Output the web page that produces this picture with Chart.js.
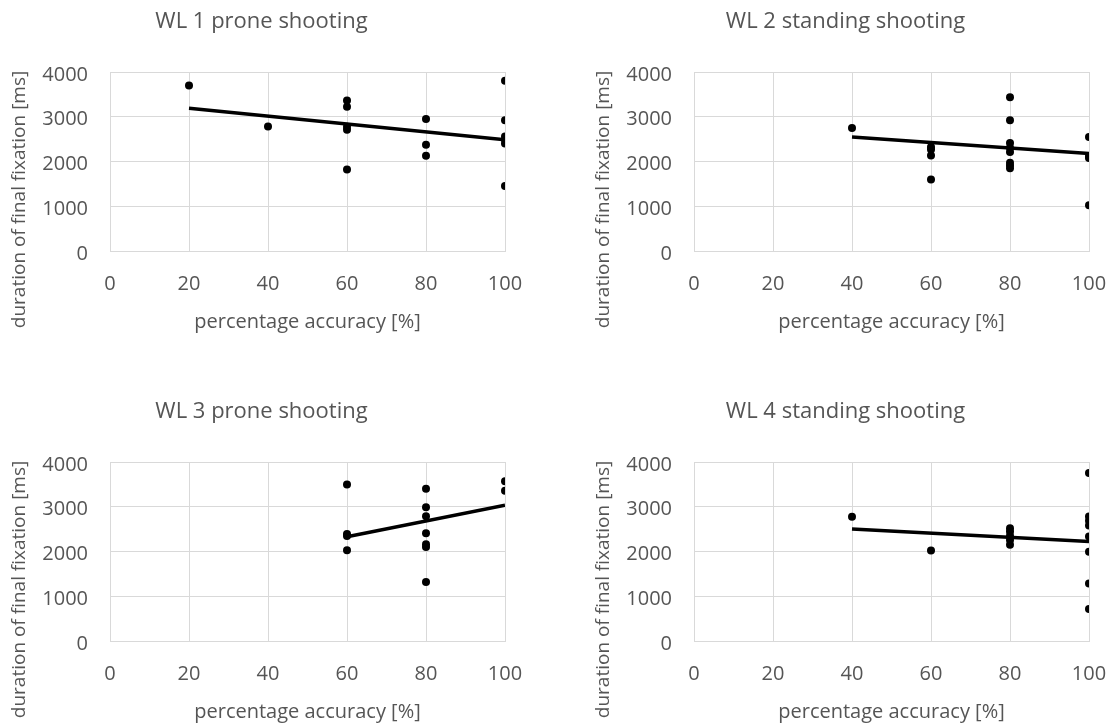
<!DOCTYPE html>
<html>
<head>
<meta charset="utf-8">
<script src="https://cdn.jsdelivr.net/npm/chart.js@4.4.0/dist/chart.umd.min.js"></script>
<style>
  body { margin: 0; background: #fff; width: 1115px; height: 724px; overflow: hidden; position: relative; }
  canvas { position: absolute; }
</style>
</head>
<body>
<canvas id="wl1" width="557" height="334" style="left:0;top:0"></canvas>
<canvas id="wl2" width="557" height="334" style="left:584px;top:0"></canvas>
<canvas id="wl3" width="557" height="334" style="left:0;top:390px"></canvas>
<canvas id="wl4" width="557" height="334" style="left:584px;top:390px"></canvas>
<script>
// x ticks and y ticks shared by all four panels
var xTicks = [0, 20, 40, 60, 80, 100];
var yTicks = [0, 1000, 2000, 3000, 4000];

// WL 1 prone shooting
var wl1Acc = [20, 40, 60, 60, 60, 60, 60, 80, 80, 80, 100, 100, 100, 100, 100, 100];
var wl1Dur = [3700, 2780, 3365, 3225, 2775, 2710, 1820, 2950, 2375, 2130, 3805, 2920, 2560, 2485, 2405, 1455];
var wl1TrendX = [20, 100];
var wl1TrendY = [3190, 2485];

// WL 2 standing shooting
var wl2Acc = [40, 60, 60, 60, 60, 80, 80, 80, 80, 80, 80, 80, 80, 100, 100, 100, 100];
var wl2Dur = [2750, 2325, 2270, 2135, 1600, 3435, 2920, 2415, 2305, 2210, 1970, 1910, 1850, 2545, 2125, 2080, 1020];
var wl2TrendX = [40, 100];
var wl2TrendY = [2545, 2180];

// WL 3 prone shooting
var wl3Acc = [60, 60, 60, 60, 80, 80, 80, 80, 80, 80, 80, 100, 100];
var wl3Dur = [3500, 2390, 2345, 2030, 3400, 2990, 2790, 2410, 2160, 2100, 1320, 3570, 3360];
var wl3TrendX = [60, 100];
var wl3TrendY = [2330, 3035];

// WL 4 standing shooting
var wl4Acc = [40, 60, 80, 80, 80, 80, 80, 100, 100, 100, 100, 100, 100, 100, 100];
var wl4Dur = [2775, 2025, 2520, 2445, 2350, 2255, 2150, 3755, 2780, 2685, 2580, 2335, 1995, 1285, 715];
var wl4TrendX = [40, 100];
var wl4TrendY = [2505, 2225];

var grey = "#555555";
var gridGrey = "#d9d9d9";
var fontName = "'Open Sans'";

function pairs(xs, ys) {
  var out = [];
  for (var i = 0; i < xs.length; i++) out.push({x: xs[i], y: ys[i]});
  return out;
}

// panel title + rotated y title, placed like the Excel original
var panelText = {
  id: "panelText",
  afterDraw: function(chart, args, opts) {
    var ctx = chart.ctx, a = chart.chartArea;
    ctx.save();
    ctx.fillStyle = grey;
    ctx.textAlign = "center";
    ctx.font = "22px " + fontName;
    ctx.textBaseline = "alphabetic";
    ctx.fillText(opts.title, 261.5, 28);
    ctx.translate(20, (a.top + a.bottom) / 2 + 38);
    ctx.rotate(-Math.PI / 2);
    ctx.font = "19px " + fontName;
    ctx.textBaseline = "middle";
    ctx.fillText(opts.yTitle, 0, 0);
    ctx.restore();
  }
};

function makePanel(id, title, acc, dur, trendX, trendY) {
  new Chart(id, {
    type: "scatter",
    data: {
      datasets: [{
        type: "line",
        data: pairs(trendX, trendY),
        borderColor: "#000",
        borderWidth: 3.5,
        pointRadius: 0,
        fill: false
      }, {
        data: pairs(acc, dur),
        backgroundColor: "#000",
        borderColor: "#000",
        pointRadius: 4,
        pointBorderWidth: 0
      }]
    },
    options: {
      responsive: false,
      animation: false,
      layout: {padding: {top: 72, right: 52, left: 0, bottom: 0}},
      plugins: {
        legend: {display: false},
        tooltip: {enabled: false},
        panelText: {title: title, yTitle: "duration of final fixation [ms]"}
      },
      scales: {
        x: {
          type: "linear",
          min: xTicks[0],
          max: xTicks[xTicks.length - 1],
          afterBuildTicks: function(s) { s.ticks = xTicks.map(function(v) { return {value: v}; }); },
          ticks: {padding: 21, color: grey, font: {family: fontName, size: 20}, callback: function(v) { return String(v); }},
          grid: {color: gridGrey, drawTicks: false},
          border: {color: gridGrey},
          title: {display: true, text: "percentage accuracy [%]", color: grey, font: {family: fontName, size: 20}, padding: {top: 0, bottom: 0}},
          afterFit: function(s) { s.height = 83; }
        },
        y: {
          min: yTicks[0],
          max: yTicks[yTicks.length - 1],
          afterBuildTicks: function(s) { s.ticks = yTicks.map(function(v) { return {value: v}; }); },
          ticks: {padding: 22, labelOffset: 3, color: grey, font: {family: fontName, size: 20}, callback: function(v) { return String(v); }},
          grid: {color: gridGrey, drawTicks: false},
          border: {color: gridGrey},
          afterFit: function(s) { s.width = 110; }
        }
      }
    },
    plugins: [panelText]
  });
}

makePanel("wl1", "WL 1 prone shooting", wl1Acc, wl1Dur, wl1TrendX, wl1TrendY);
makePanel("wl2", "WL 2 standing shooting", wl2Acc, wl2Dur, wl2TrendX, wl2TrendY);
makePanel("wl3", "WL 3 prone shooting", wl3Acc, wl3Dur, wl3TrendX, wl3TrendY);
makePanel("wl4", "WL 4 standing shooting", wl4Acc, wl4Dur, wl4TrendX, wl4TrendY);
</script>
</body>
</html>
